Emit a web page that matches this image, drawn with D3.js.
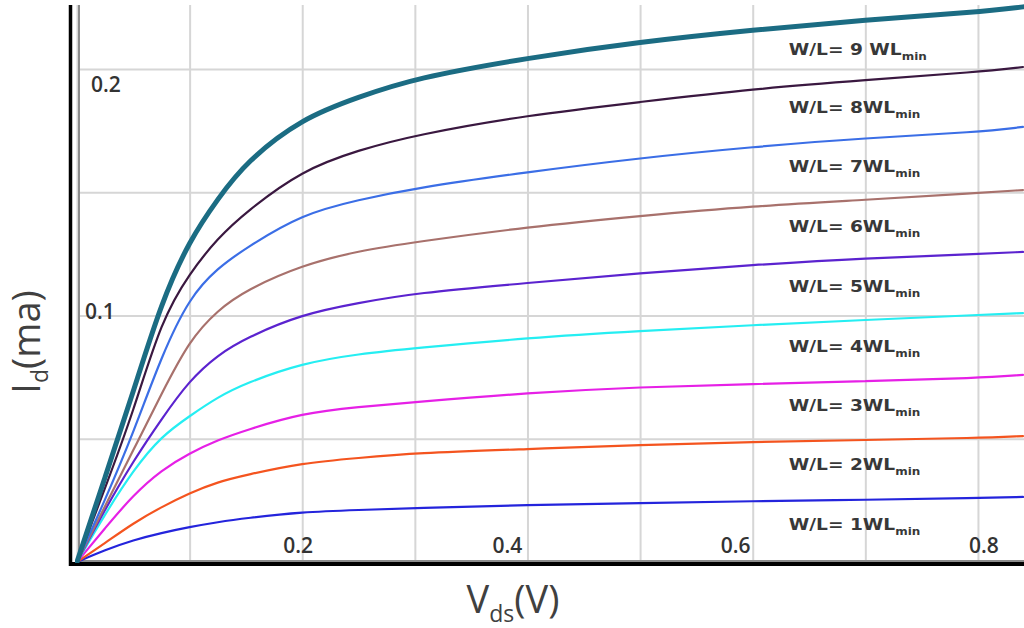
<!DOCTYPE html>
<html>
<head>
<meta charset="utf-8">
<script src="https://cdn.jsdelivr.net/npm/d3@7/dist/d3.min.js"></script>
<style>
  body { margin: 0; background: #fff; }
  svg { display: block; }
</style>
</head>
<body>
<div id="chart"></div>
<script>
// V_ds sample points (V)
const vds = [0, 0.025, 0.05, 0.075, 0.1, 0.125, 0.15, 0.2, 0.25, 0.3, 0.4, 0.5, 0.6, 0.7, 0.8, 0.84];

// I_d (mA), W/L = 9 ... 1 WLmin
const id9 = [0, 0.0345, 0.0690, 0.1055, 0.1306, 0.1473, 0.1623, 0.1801, 0.1886, 0.1963, 0.2045, 0.2110, 0.2158, 0.2199, 0.2231, 0.2252];
const id8 = [0, 0.0300, 0.0609, 0.0982, 0.1172, 0.1314, 0.1420, 0.1590, 0.1671, 0.1732, 0.1813, 0.1866, 0.1919, 0.1955, 0.1988, 0.2008];
const id7 = [0, 0.0252, 0.0523, 0.0836, 0.1075, 0.1193, 0.1274, 0.1412, 0.1469, 0.1517, 0.1582, 0.1639, 0.1684, 0.1720, 0.1744, 0.1765];
const id6 = [0, 0.0227, 0.0454, 0.0682, 0.0901, 0.1022, 0.1103, 0.1205, 0.1262, 0.1298, 0.1359, 0.1404, 0.1444, 0.1469, 0.1497, 0.1509];
const id5 = [0, 0.0215, 0.0410, 0.0580, 0.0738, 0.0840, 0.0909, 0.1006, 0.1051, 0.1091, 0.1132, 0.1172, 0.1205, 0.1233, 0.1249, 0.1258];
const id4 = [0, 0.0195, 0.0373, 0.0511, 0.0592, 0.0669, 0.0726, 0.0807, 0.0844, 0.0868, 0.0909, 0.0937, 0.0961, 0.0982, 0.1002, 0.1010];
const id3 = [0, 0.0138, 0.0272, 0.0373, 0.0442, 0.0495, 0.0535, 0.0604, 0.0629, 0.0649, 0.0686, 0.0710, 0.0722, 0.0734, 0.0746, 0.0759];
const id2 = [0, 0.0077, 0.0158, 0.0223, 0.0280, 0.0325, 0.0353, 0.0402, 0.0422, 0.0442, 0.0458, 0.0475, 0.0487, 0.0495, 0.0503, 0.0511];
const id1 = [0, 0.0049, 0.0089, 0.0118, 0.0142, 0.0162, 0.0178, 0.0203, 0.0211, 0.0219, 0.0231, 0.0239, 0.0247, 0.0252, 0.0260, 0.0264];

const ratioLabels = ["9 ", "8", "7", "6", "5", "4", "3", "2", "1"];
const colors = ["#1b6c83", "#3a1840", "#3b6ee6", "#a8716c", "#5b23cf", "#25eef2", "#e620e6", "#f4541f", "#2424dc"];
const widths = [5, 2.2, 2.2, 2.2, 2.2, 2.2, 2.2, 2.2, 2.2];

const xGrid = [0, 0.1, 0.2, 0.3, 0.4, 0.5, 0.6, 0.7, 0.8];
const yGrid = [0, 0.05, 0.1, 0.15, 0.2];
const xTickLabels = [0.2, 0.4, 0.6, 0.8];
const yTickLabels = [0.1, 0.2];

const series = [id9, id8, id7, id6, id5, id4, id3, id2, id1];

// set the dimensions of the page
const width = 1024, height = 628;
const plotTop = 5;

const svg = d3.select("#chart")
  .append("svg")
  .attr("width", width)
  .attr("height", height);

const x = d3.scaleLinear().domain([0, 0.84]).range([77, 1023]);
const y = d3.scaleLinear().domain([0, 0.2]).range([562, 69]);

// grid
svg.append("g")
  .attr("transform", `translate(0,${y(0)})`)
  .call(d3.axisBottom(x).tickValues(xGrid).tickSize(-(y(0) - plotTop)).tickFormat(""))
  .call(g => g.select(".domain").remove())
  .call(g => g.selectAll("line").attr("stroke", "#d6d6d6").attr("stroke-width", 2));

svg.append("g")
  .attr("transform", `translate(${x(0)},0)`)
  .call(d3.axisLeft(y).tickValues(yGrid).tickSize(-(width - x(0))).tickFormat(""))
  .call(g => g.select(".domain").remove())
  .call(g => g.selectAll("line").attr("stroke", "#d6d6d6").attr("stroke-width", 2));

// the inner grey edge of the axes
svg.append("line")
  .attr("x1", x(0) + 2).attr("x2", x(0) + 2)
  .attr("y1", plotTop).attr("y2", y(0))
  .attr("stroke", "#8c8c8c").attr("stroke-width", 2);
svg.append("line")
  .attr("x1", x(0)).attr("x2", width)
  .attr("y1", y(0) - 1).attr("y2", y(0) - 1)
  .attr("stroke", "#8c8c8c").attr("stroke-width", 2);

// black axes
svg.append("line")
  .attr("x1", x(0) - 6.5).attr("x2", x(0) - 6.5)
  .attr("y1", plotTop).attr("y2", y(0) + 4)
  .attr("stroke", "#000").attr("stroke-width", 3.5);
svg.append("line")
  .attr("x1", x(0) - 8).attr("x2", width)
  .attr("y1", y(0) + 2).attr("y2", y(0) + 2)
  .attr("stroke", "#000").attr("stroke-width", 4);

// clip the curves to the plot area
svg.append("defs").append("clipPath")
  .attr("id", "clip")
  .append("rect")
  .attr("x", x(0) - 2).attr("y", 0)
  .attr("width", width - x(0) + 2).attr("height", y(0) + 1);

const line = d3.line()
  .x((d, i) => x(vds[i]))
  .y(d => y(d))
  .curve(d3.curveBasis);

const curves = svg.append("g").attr("clip-path", "url(#clip)");

// draw the lower curves first so the thick one stays on top
series.slice().reverse().forEach((s, k) => {
  const i = series.length - 1 - k;
  curves.append("path")
    .datum(s)
    .attr("fill", "none")
    .attr("stroke", colors[i])
    .attr("stroke-width", widths[i])
    .attr("stroke-linejoin", "round")
    .attr("stroke-linecap", "round")
    .attr("d", line);
});

// value of a curve at a given Vds (linear between samples)
function valueAt(s, v) {
  const j = d3.bisectRight(vds, v) - 1;
  const t = (v - vds[j]) / (vds[j + 1] - vds[j]);
  return s[j] + t * (s[j + 1] - s[j]);
}

// W/L labels sit between each curve and the one below it
const labelV = 0.64;
const labelX = x(0.632);
series.forEach((s, i) => {
  const above = y(valueAt(s, labelV));
  const below = i < series.length - 1 ? y(valueAt(series[i + 1], labelV)) : y(0);
  const t = svg.append("text")
    .attr("transform", `translate(${labelX},${(above + below) / 2 - 1}) scale(1.2,1)`)
    .attr("font-family", "'DejaVu Sans', sans-serif")
    .attr("font-weight", 700)
    .attr("font-size", 15.5)
    .attr("fill", "#383838");
  t.append("tspan").text("W/L= " + ratioLabels[i] + "WL");
  t.append("tspan")
    .attr("font-size", 10)
    .attr("dy", 5)
    .text("min");
});

// tick labels (nudged as in the original figure)
const xTickDx = { 0.2: -4, 0.4: -20, 0.6: -17, 0.8: 6 };
svg.append("g")
  .selectAll("text")
  .data(xTickLabels)
  .join("text")
  .attr("x", d => x(d) + xTickDx[d])
  .attr("y", y(0) - 9)
  .attr("text-anchor", "middle")
  .attr("font-family", "'Open Sans', sans-serif")
  .attr("font-weight", 600)
  .attr("font-size", 21)
  .attr("fill", "#333")
  .text(d => d);

const yTickDy = { 0.1: 3, 0.2: 23 };
const yTickX = { 0.1: 85, 0.2: 91 };
svg.append("g")
  .selectAll("text")
  .data(yTickLabels)
  .join("text")
  .attr("x", d => yTickX[d])
  .attr("y", d => y(d) + yTickDy[d])
  .attr("font-family", "'Open Sans', sans-serif")
  .attr("font-weight", 600)
  .attr("font-size", 21)
  .attr("fill", "#333")
  .text(d => d);

// axis titles
const xTitle = svg.append("text")
  .attr("x", 513)
  .attr("y", 613)
  .attr("text-anchor", "middle")
  .attr("font-family", "'Open Sans', sans-serif")
  .attr("font-size", 38)
  .attr("fill", "#404040");
xTitle.append("tspan").text("V");
xTitle.append("tspan").attr("font-size", 23).attr("dy", 9).text("ds");
xTitle.append("tspan").attr("dy", -9).text("(V)");

const yTitle = svg.append("text")
  .attr("transform", "translate(40,342) rotate(-90)")
  .attr("text-anchor", "middle")
  .attr("font-family", "'Open Sans', sans-serif")
  .attr("font-size", 38)
  .attr("fill", "#404040");
yTitle.append("tspan").text("I");
yTitle.append("tspan").attr("font-size", 23).attr("dy", 8).text("d");
yTitle.append("tspan").attr("dy", -8).text("(ma)");
</script>
</body>
</html>
